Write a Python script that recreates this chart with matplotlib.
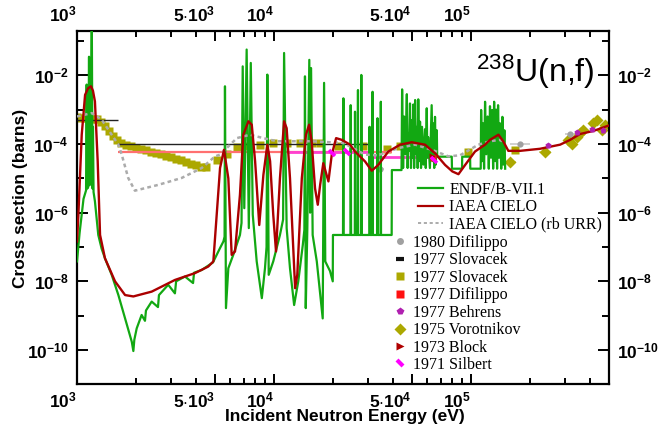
import numpy as np
import matplotlib
matplotlib.use('Agg')
import matplotlib.pyplot as plt
from matplotlib.ticker import FixedLocator, FixedFormatter, NullFormatter
from matplotlib.lines import Line2D
from matplotlib.markers import MarkerStyle
from matplotlib.transforms import Affine2D

plt.rcParams['font.family'] = ['Liberation Sans', 'DejaVu Sans']
plt.rcParams['mathtext.fontset'] = 'custom'
plt.rcParams['mathtext.rm'] = 'Liberation Sans'
plt.rcParams['mathtext.bf'] = 'Liberation Sans:bold'
plt.rcParams['mathtext.it'] = 'Liberation Sans:italic'

# ---------------- data (log10 of energy in eV, log10 of cross section in barns) ----------
endf_logE = [3.000, 3.013, 3.024, 3.033, 3.041, 3.046, 3.049, 3.052, 3.057, 3.061, 3.064, 3.069, 3.075, 3.079,
             3.081, 3.084, 3.091, 3.108, 3.125, 3.142, 3.176, 3.210, 3.244, 3.278, 3.286, 3.291, 3.303, 3.328,
             3.345, 3.350, 3.379, 3.411, 3.416, 3.463, 3.497, 3.503, 3.548, 3.589, 3.594, 3.633, 3.690, 3.726,
             3.743, 3.749, 3.751, 3.754, 3.756, 3.768, 3.793, 3.827, 3.835, 3.841, 3.849, 3.861, 3.872, 3.882,
             3.892, 3.912, 3.938, 3.954, 3.962, 3.966, 3.973, 3.996, 4.030, 4.046, 4.051, 4.064, 4.081, 4.102,
             4.123, 4.146, 4.154, 4.157, 4.161, 4.169, 4.179, 4.183, 4.188, 4.196, 4.217, 4.247, 4.254, 4.260,
             4.284, 4.298, 4.299,
             4.350, 4.352, 4.353, 4.388, 4.389, 4.391, 4.410, 4.411, 4.413, 4.424, 4.426, 4.427, 4.442, 4.443,
             4.445, 4.484, 4.485, 4.487, 4.498, 4.500, 4.501, 4.523, 4.525, 4.526, 4.541, 4.542, 4.543, 4.597,
             4.598, 4.647,
             4.650, 4.655, 4.660, 4.667, 4.674, 4.678, 4.682, 4.686, 4.690, 4.695, 4.701, 4.704, 4.707, 4.711,
             4.716, 4.721, 4.726, 4.729, 4.732, 4.736, 4.741, 4.746, 4.751, 4.758, 4.766, 4.770, 4.775, 4.778,
             4.782, 4.791, 4.800, 4.805, 4.809, 4.813, 4.817, 4.821, 4.826, 4.828, 4.902, 4.903, 4.954, 4.955,
             4.995, 4.996, 5.049,
             5.051, 5.056, 5.061, 5.066, 5.071, 5.077, 5.084, 5.090, 5.096, 5.101, 5.107, 5.112, 5.117, 5.122,
             5.127, 5.132, 5.137, 5.142, 5.147, 5.153, 5.159, 5.164, 5.169, 5.173]
endf_logxs = [-7.42, -6.6, -6.06, -5.6, -5.45, -5.35, -2.27, -5.3, -5.25, -1.46, -5.2, -4.6, -0.3, -5.3,
              -3.5, -5.4, -5.67, -6.65, -7.05, -7.33, -7.81, -8.4, -9.08, -9.76, -10.03, -9.7, -9.37, -8.98,
              -9.15, -8.85, -8.59, -8.75, -8.4, -8.1, -8.35, -8.0, -7.86, -8.05, -7.75, -7.67, -7.45, -7.03,
              -6.84, -6.7, -2.32, -6.5, -8.78, -7.62, -7.23, -6.65, -6.3, -1.74, -5.87, -1.25, -6.45, -1.64,
              -6.06, -7.42, -8.49, -7.62, -7.0, -1.98, -7.81, -7.42, -6.65, -6.2, -1.35, -6.45, -7.62, -8.69,
              -8.0, -6.94, -6.5, -2.03, -8.78, -6.45, -1.55, -6.0, -1.79, -6.65, -7.42, -9.08, -2.22, -7.42,
              -7.7, -8.0, -6.65,
              -6.65, -2.67, -6.65, -6.65, -2.87, -6.65, -6.65, -3.06, -6.65, -6.65, -2.43, -6.65, -6.65, -1.99,
              -6.65, -6.65, -3.5, -6.65, -6.65, -2.48, -6.65, -6.65, -3.25, -6.65, -6.65, -2.77, -6.65, -6.65,
              -4.76, -4.76,
              -2.41, -4.7, -3.2, -4.3, -2.55, -4.7, -3.7, -4.2, -2.82, -4.7, -3.3, -4.4, -2.85, -4.7,
              -2.72, -4.3, -3.5, -4.7, -2.70, -4.5, -3.35, -4.7, -3.5, -4.6, -3.57, -4.7, -2.96, -4.4,
              -3.8, -4.7, -2.87, -4.5, -3.4, -4.7, -3.21, -4.6, -3.6, -4.37, -4.37, -4.72, -4.72, -4.37,
              -4.37, -4.72, -4.72,
              -3.01, -4.5, -3.4, -4.72, -2.77, -4.3, -3.2, -4.72, -2.9, -4.4, -3.01, -4.72, -2.77, -4.5,
              -3.0, -4.72, -2.87, -4.4, -3.4, -4.72, -3.21, -4.6, -3.6, -4.72]

cielo_logE = [3.000, 3.007, 3.024, 3.041, 3.056, 3.071, 3.081, 3.091, 3.105, 3.117, 3.142, 3.193, 3.244, 3.286,
              3.379, 3.497, 3.599, 3.666, 3.692, 3.709, 3.726, 3.746, 3.768, 3.785, 3.802, 3.827, 3.844, 3.870,
              3.887, 3.904, 3.925, 3.946, 3.966, 3.980, 3.996, 4.010, 4.030, 4.051, 4.064, 4.081, 4.107, 4.118,
              4.141, 4.162, 4.178, 4.191, 4.208, 4.222, 4.234, 4.250, 4.276, 4.293, 4.315, 4.344, 4.386, 4.411,
              4.462, 4.496, 4.529, 4.580, 4.640, 4.699, 4.766, 4.817, 4.868, 4.905, 4.936, 4.970, 5.020, 5.071,
              5.096, 5.139, 5.164, 5.189, 5.249, 5.350, 5.452, 5.503, 5.553, 5.621, 5.700]
cielo_logxs = [-6.84, -6.06, -3.73, -2.57, -2.38, -2.32, -2.45, -2.76, -4.5, -6.65, -7.33, -8.0, -8.4, -8.44,
               -8.3, -7.96, -7.76, -7.57, -7.42, -6.06, -4.7, -4.17, -5.0, -7.23, -7.13, -5.48, -3.73, -3.34,
               -3.44, -4.51, -6.36, -4.9, -4.02, -4.5, -6.06, -7.13, -5.0, -3.34, -3.54, -5.0, -8.2, -7.81,
               -5.0, -3.73, -3.44, -3.93, -5.29, -5.77, -5.19, -4.56, -5.09, -4.31, -3.83, -3.88, -4.02, -4.22,
               -4.51, -4.78, -4.61, -4.22, -4.02, -3.95, -4.02, -4.27, -4.61, -4.80, -4.88, -4.61, -4.22, -4.02,
               -3.88, -3.73, -3.93, -4.20, -4.20, -4.14, -4.02, -3.88, -3.71, -3.62, -3.46]

rburr_logE = [3.000, 3.075, 3.125, 3.176, 3.210, 3.227, 3.260, 3.294, 3.413, 3.531, 3.633, 3.701, 3.726, 3.760,
              3.811, 3.878, 3.946, 4.014, 4.183, 4.352, 4.462, 4.529, 4.631, 4.716, 4.801, 4.885, 4.944, 5.037,
              5.096, 5.147, 5.173]
rburr_logxs = [-3.20, -3.10, -3.29, -3.73, -4.02, -4.31, -4.99, -5.36, -5.19, -4.99, -4.70, -4.36, -4.31, -4.12,
               -3.83, -3.73, -3.83, -3.92, -3.92, -3.97, -4.31, -4.33, -4.12, -4.02, -4.17, -4.36, -4.33, -4.02,
               -3.92, -3.88, -4.00]

slovacek_sq_logE = [3.000, 3.020, 3.041, 3.061, 3.081, 3.102, 3.122, 3.142, 3.162, 3.183, 3.203, 3.223, 3.249,
                    3.274, 3.299, 3.325, 3.350, 3.376, 3.401, 3.426, 3.452, 3.477, 3.503, 3.528, 3.553, 3.579,
                    3.604, 3.629, 3.655, 3.709, 3.760, 3.811, 3.858, 3.929, 3.996, 4.064, 4.132, 4.191, 4.234,
                    4.325, 4.453, 4.572, 4.640, 4.809, 4.986, 5.223]
slovacek_sq_logxs = [-3.22, -3.23, -3.24, -3.25, -3.26, -3.28, -3.36, -3.48, -3.62, -3.76, -3.88, -3.96, -4.02,
                     -4.07, -4.11, -4.15, -4.19, -4.23, -4.27, -4.30, -4.34, -4.39, -4.43, -4.47, -4.52, -4.57,
                     -4.62, -4.66, -4.68, -4.47, -4.30, -4.08, -4.05, -4.02, -3.97, -3.97, -3.97, -3.96, -3.97,
                     -4.05, -4.07, -4.15, -4.07, -4.27, -4.23, -4.18]

slovacek_bin_lo = [3.000, 3.208]
slovacek_bin_hi = [3.208, 4.497]
slovacek_bin_logxs = [-3.30, -4.01]

difilippo77_bin_lo = [3.208]
difilippo77_bin_hi = [4.600]
difilippo77_bin_logxs = [-4.23]
difilippo77_logE = [4.809]
difilippo77_logxs = [-4.41]

silbert_bin_lo = [4.066, 4.497]
silbert_bin_hi = [4.497, 4.802]
silbert_bin_logxs = [-4.22, -4.39]
silbert_logE = [4.293, 4.369, 4.814]
silbert_logxs = [-4.25, -4.22, -4.48]

block_logE = [4.800]
block_logxs = [-4.36]

difilippo80_logE = [4.538, 5.249, 5.503]
difilippo80_logxs = [-4.73, -4.01, -3.70]
difilippo80_dE = [0.02, 0.05, 0.025]

vorotnikov_logE = [5.198, 5.376, 5.492, 5.511, 5.536, 5.553, 5.570, 5.621, 5.638, 5.663, 5.680]
vorotnikov_logxs = [-4.52, -4.23, -3.89, -4.01, -3.79, -3.69, -3.60, -3.40, -3.30, -3.60, -3.45]
vorotnikov_dE = [0.03, 0.03, 0.02, 0.02, 0.02, 0.02, 0.02, 0.02, 0.02, 0.02, 0.02]

behrens_logE = [5.392, 5.536, 5.616, 5.672]
behrens_logxs = [-4.03, -3.64, -3.57, -3.60]

legend_lines = ['ENDF/B-VII.1', 'IAEA CIELO', 'IAEA CIELO (rb URR)']
legend_points = ['1980 Difilippo', '1977 Slovacek', '1977 Slovacek', '1977 Difilippo',
                 '1977 Behrens', '1975 Vorotnikov', '1973 Block', '1971 Silbert']

xmajor = [1e3, 5e3, 1e4, 5e4, 1e5]
xmajor_labels = [r'$\mathbf{10^{3}}$', r'$\mathbf{5{\cdot}10^{3}}$', r'$\mathbf{10^{4}}$',
                 r'$\mathbf{5{\cdot}10^{4}}$', r'$\mathbf{10^{5}}$']
ymajor_exp = [-10, -8, -6, -4, -2]

# ---------------- colours ----------------
C_ENDF = '#12a812'
C_CIELO = '#ab0000'
C_RB = '#ababab'
C_OLIVE = '#aca800'
C_OLIVE_ERR = '#d2d08a'

def p(a):
    return 10.0 ** np.asarray(a, dtype=float)

fig = plt.figure(figsize=(6.61, 4.28), dpi=100)
W, H = 661.0, 428.0
ax = fig.add_axes([77 / W, 1 - 384 / H, (609 - 77) / W, (384 - 31) / H])
ax.set_xscale('log')
ax.set_yscale('log')

def bins(lo, hi, ys, color, lw, z):
    lo, hi, ys = p(lo), p(hi), p(ys)
    ax.hlines(ys, lo, hi, colors=color, linewidth=lw, zorder=z)

ax.plot(p(slovacek_sq_logE), p(slovacek_sq_logxs), 's', color=C_OLIVE, ms=6.2, mec='none', zorder=2)
bins(difilippo77_bin_lo, difilippo77_bin_hi, difilippo77_bin_logxs, '#ff7070', 1.6, 2.5)
bins(silbert_bin_lo, silbert_bin_hi, silbert_bin_logxs, '#ff40d0', 2.0, 2.6)
bins(slovacek_bin_lo, slovacek_bin_hi, slovacek_bin_logxs, '#222222', 1.0, 2.7)

vE = p(vorotnikov_logE)
vdE = np.asarray(vorotnikov_dE)
ax.errorbar(vE, p(vorotnikov_logxs), xerr=[vE - vE / 10 ** vdE, vE * 10 ** vdE - vE], fmt='D',
            color=C_OLIVE, ecolor=C_OLIVE_ERR, elinewidth=1.2, ms=6, mec='none', zorder=2.2)
dE = p(difilippo80_logE)
ddE = np.asarray(difilippo80_dE)
ax.errorbar(dE, p(difilippo80_logxs), xerr=[dE - dE / 10 ** ddE, dE * 10 ** ddE - dE], fmt='o',
            color='#a0a0a0', ecolor='#c8c8c8', elinewidth=1.2, ms=4.5, mec='none', zorder=2.3)

ax.plot(p(endf_logE), p(endf_logxs), color=C_ENDF, lw=1.6, zorder=3)
ax.plot(p(rburr_logE), p(rburr_logxs), color=C_RB, lw=1.8, ls=(0, (1.5, 1.3)), zorder=4)
ax.plot(p(cielo_logE), p(cielo_logxs), color=C_CIELO, lw=1.7, zorder=5)

ax.plot(p(behrens_logE), p(behrens_logxs), 'p', color='#b020b0', ms=5, mec='none', zorder=5.5)
ax.plot(p(difilippo77_logE), p(difilippo77_logxs), 's', color='#ff1010', ms=5, mec='none', zorder=5.5)
ax.plot(p(block_logE), p(block_logxs), '>', color='#b00000', ms=5, mec='none', zorder=5.6)
silbert_marker = MarkerStyle('|', transform=Affine2D().rotate_deg(45))
ax.plot(p(silbert_logE), p(silbert_logxs), linestyle='none', marker=silbert_marker, color='#ff00ff',
        ms=6, mew=2.6, zorder=5.7)

ax.set_xlim(1e3, 10 ** 5.70)
ax.set_ylim(10 ** -10.99, 10 ** -0.71)

# ticks
ax.xaxis.set_major_locator(FixedLocator(xmajor))
ax.xaxis.set_major_formatter(FixedFormatter(xmajor_labels))
xminor = [m * 10 ** k for k in (3, 4, 5) for m in (2, 3, 4, 6, 7, 8, 9)]
ax.xaxis.set_minor_locator(FixedLocator([v for v in xminor if v < 5e5]))
ax.xaxis.set_minor_formatter(NullFormatter())
ax.yaxis.set_major_locator(FixedLocator([10.0 ** k for k in ymajor_exp]))
ax.yaxis.set_major_formatter(FixedFormatter([r'$\mathbf{10^{%d}}$' % k for k in ymajor_exp]))
ax.yaxis.set_minor_locator(FixedLocator([10.0 ** k for k in (-9, -7, -5, -3, -1)]))
ax.yaxis.set_minor_formatter(NullFormatter())

ax.tick_params(which='both', direction='in', top=True, right=True, bottom=True, left=True,
               labeltop=True, labelright=True, labelsize=12.5, width=1.4)
ax.xaxis.set_tick_params(which='major', length=7, pad=5)
ax.xaxis.set_tick_params(which='minor', length=4)
ax.yaxis.set_tick_params(which='major', length=8, pad=6)
ax.yaxis.set_tick_params(which='minor', length=5)
for t in ax.xaxis.get_major_ticks():
    t.label1.set_horizontalalignment('right')
    t.label2.set_horizontalalignment('right')
for s in ax.spines.values():
    s.set_linewidth(1.6)

fig.text(21 / W, 1 - 198 / H, 'Cross section (barns)', rotation=90, ha='center', va='center',
         fontsize=12.5, fontweight='bold')
fig.text(345 / W, 1 - 417 / H, 'Incident Neutron Energy (eV)', ha='center', va='center',
         fontsize=12.5, fontweight='bold')
fig.text(476 / W, 1 - 82 / H, r'$\mathregular{^{238}}$U(n,f)', ha='left', va='baseline', fontsize=23)

# legends
serif = {'family': 'Liberation Serif', 'size': 11.5}
h1 = [Line2D([], [], color=C_ENDF, lw=1.6),
      Line2D([], [], color=C_CIELO, lw=1.6),
      Line2D([], [], color=C_RB, lw=1.4, ls=(0, (1.6, 1.4)))]
leg1 = ax.legend(h1, legend_lines, loc='upper left', bbox_to_anchor=(418 / W, 1 - 182 / H),
                 bbox_transform=fig.transFigure, frameon=False, prop=serif, handlelength=1.55,
                 handletextpad=0.4, borderpad=0, borderaxespad=0, labelspacing=0.09)
ax.add_artist(leg1)
h2 = [Line2D([], [], ls='none', marker='o', color='#a0a0a0', ms=5, mec='none'),
      Line2D([], [], ls='none', marker='_', color='#111111', ms=6, mew=3),
      Line2D([], [], ls='none', marker='s', color=C_OLIVE, ms=5.5, mec='none'),
      Line2D([], [], ls='none', marker='s', color='#ff1010', ms=5.5, mec='none'),
      Line2D([], [], ls='none', marker='p', color='#b020b0', ms=6, mec='none'),
      Line2D([], [], ls='none', marker='D', color=C_OLIVE, ms=6, mec='none'),
      Line2D([], [], ls='none', marker='>', color='#b00000', ms=6, mec='none'),
      Line2D([], [], ls='none', marker=silbert_marker, color='#ff00ff', ms=7, mew=3)]
leg2 = ax.legend(h2, legend_points, loc='upper left', bbox_to_anchor=(394 / W, 1 - 235 / H),
                 bbox_transform=fig.transFigure, frameon=False, prop=serif, handlelength=0.8,
                 handletextpad=0.4, borderpad=0, borderaxespad=0, labelspacing=0.09)

fig.savefig('out.png', dpi=100)
